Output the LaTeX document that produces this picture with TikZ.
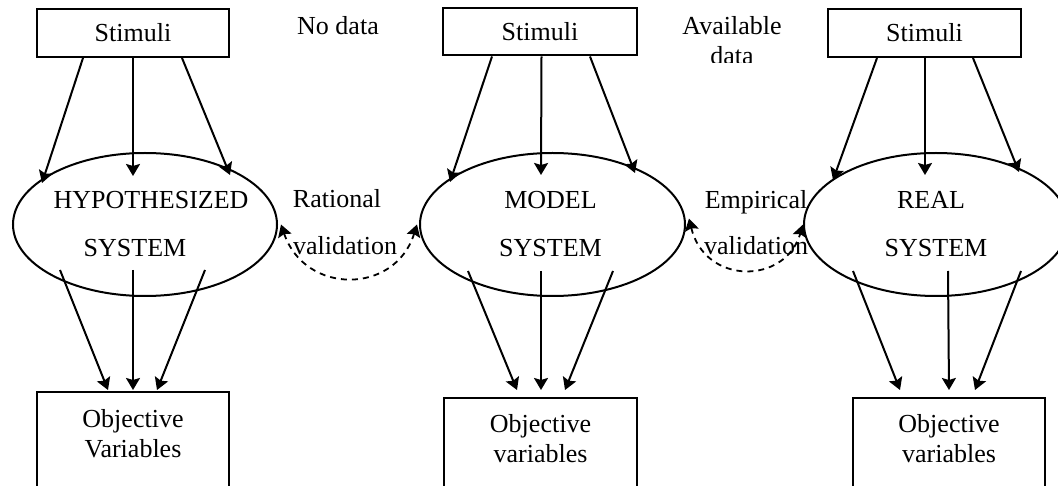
\documentclass[tikz,border=0pt]{standalone}
\usepackage{fontspec}
\setmainfont{Liberation Serif}
\usetikzlibrary{arrows.meta,shapes.geometric,calc}
\begin{document}
\begin{tikzpicture}[x=1pt,y=-1pt,
  every node/.style={font=\fontsize{26}{31}\selectfont},
  box/.style={draw, line width=2pt, rectangle, inner sep=0pt},
  sys/.style={draw, ellipse, line width=2pt, minimum width=264pt, minimum height=143pt, inner sep=0pt, align=center},
  arr/.style={line width=2pt, -{Stealth[length=12pt,width=14pt,inset=2pt]}},
  val/.style={line width=1.8pt, dash pattern=on 6pt off 5pt, {Stealth[length=12pt,width=14pt,inset=2pt]}-{Stealth[length=12pt,width=14pt,inset=2pt]}},
  lbl/.style={inner sep=0pt, anchor=base},
  objtxt/.style={inner sep=0pt, anchor=north, align=center, font=\fontsize{26}{30}\selectfont}]
\useasboundingbox (0,0) rectangle (1058,486);
\clip (0,0) rectangle (1058,486);
\fill[white] (0,0) rectangle (1058,486);

% top boxes
\node[box, minimum width=192pt, minimum height=48pt] (s1) at (133,33) {Stimuli};
\node[box, minimum width=194pt, minimum height=47pt] (s2) at (540,32) {Stimuli};
\node[box, minimum width=193pt, minimum height=48pt] (s3) at (924.5,33) {Stimuli};

% ellipses
\node[sys] (e1) at (145,224.5) {\makebox[0pt]{\hspace*{12pt}HYPOTHESIZED}\\[17pt]\makebox[0pt]{SYSTEM\hspace*{20pt}}};
\node[sys, minimum width=265pt] (e2) at (552.5,224.5) {\makebox[0pt]{MODEL\hspace*{4pt}}\\[17pt]\makebox[0pt]{SYSTEM\hspace*{4pt}}};
\node[sys] (e3) at (936,224.5) {\makebox[0pt]{REAL\hspace*{10pt}}\\[17pt]\makebox[0pt]{SYSTEM}};

% bottom boxes
\node[box, anchor=north, minimum width=192pt, minimum height=120pt] (b1) at (133,391) {};
\node[box, anchor=north, minimum width=193pt, minimum height=120pt] (b2) at (540.5,397) {};
\node[box, anchor=north, minimum width=192pt, minimum height=120pt] (b3) at (949,397) {};
\node[objtxt] (b1t) at (133,409) {Objective\\Variables};
\node[objtxt] (b2t) at (540.5,414) {Objective\\variables};
\node[objtxt] (b3t) at (949,414) {Objective\\variables};

% side labels
\node[lbl] (nodata) at (338,35) {No data};
\node[lbl] (avail) at (732,35) {Available};
\begin{scope}
  \clip (600,0) rectangle (900,63);
  \node[lbl] (data) at (732,65) {data};
\end{scope}
\node[lbl] (rat) at (337,208) {Rational};
\node[lbl] (rval) at (345,255) {validation};
\node[lbl] (emp) at (756,209) {Empirical};
\node[lbl] (eval) at (756,255) {validation};

% stimuli -> systems
\draw[arr] ($(s1.south)+(-50,0)$) -- ($(e1.center)+(-103,-41.5)$);
\draw[arr] (s1.south) -- ($(e1.center)+(-12,-48.5)$);
\draw[arr] ($(s1.south)+(49,0)$) -- ($(e1.center)+(85,-49.5)$);

\draw[arr] ($(s2.south)+(-48,0)$) -- ($(e2.center)+(-102.5,-42.5)$);
\draw[arr] ($(s2.south)+(1.5,0)$) -- ($(e2.center)+(-11.5,-49.5)$);
\draw[arr] ($(s2.south)+(50,0)$) -- ($(e2.center)+(82.5,-51.5)$);

\draw[arr] ($(s3.south)+(-47.5,0)$) -- ($(e3.center)+(-103,-44.5)$);
\draw[arr] ($(s3.south)+(0.5,0)$) -- ($(e3.center)+(-11,-49.5)$);
\draw[arr] ($(s3.south)+(48.5,0)$) -- ($(e3.center)+(83,-52.5)$);

% systems -> objective variables
\draw[arr] ($(e1.center)+(-85,45.5)$) -- ($(b1.north)+(-25,-1)$);
\draw[arr] ($(e1.center)+(-12,45.5)$) -- ($(b1.north)+(0,-1)$);
\draw[arr] ($(e1.center)+(60,45.5)$) -- ($(b1.north)+(24,-1)$);

\draw[arr] ($(e2.center)+(-84.5,46.5)$) -- ($(b2.north)+(-23.5,-7)$);
\draw[arr] ($(e2.center)+(-11.5,46.5)$) -- ($(b2.north)+(0.5,-7)$);
\draw[arr] ($(e2.center)+(60.5,46.5)$) -- ($(b2.north)+(24.5,-7)$);

\draw[arr] ($(e3.center)+(-83,46.5)$) -- ($(b3.north)+(-49,-7)$);
\draw[arr] ($(e3.center)+(12,46.5)$) -- ($(b3.north)+(0,-7)$);
\draw[arr] ($(e3.center)+(85,46.5)$) -- ($(b3.north)+(26,-7)$);

% validations
\draw[val] ($(e1.east)+(3,0)$) .. controls (305,295) and (395,295) .. ($(e2.west)+(-2,0)$);
\draw[val] ($(e2.east)+(3,-6)$) .. controls (705,285) and (785,285) .. (e3.west);
\end{tikzpicture}
\end{document}
